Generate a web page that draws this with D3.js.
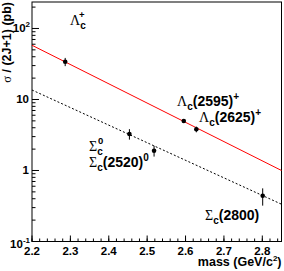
<!DOCTYPE html>
<html>
<head>
<meta charset="utf-8">
<script src="https://cdn.jsdelivr.net/npm/d3@7"></script>
<style>
body { margin: 0; background: #fff; }
text { font-family: "Liberation Sans", Arial, sans-serif; font-weight: bold; fill: #000; }
.greek { font-family: "Liberation Serif", "DejaVu Serif", serif; font-weight: normal; }
</style>
</head>
<body>
<script>
// states and measured sigma/(2J+1)
var states = ["Lc", "Sc0", "Sc2520", "Lc2595", "Lc2625", "Sc2800"];
var masses = [2.2865, 2.4538, 2.5180, 2.5954, 2.6281, 2.8010];
var xsec = [34, 3.27, 1.90, 4.98, 3.80, 0.44];
var xsecErr = [4.5, 0.55, 0.33, 0.3, 0.35, 0.12];

// exponential fits (end points)
var fitMass = [2.2, 2.85];
var lambdaFit = [58, 1.0];
var sigmaFit = [13.6, 0.335];

var xTicks = [2.2, 2.3, 2.4, 2.5, 2.6, 2.7, 2.8];
var xTickLabels = ["2.2", "2.3", "2.4", "2.5", "2.6", "2.7", "2.8"];
var yTicks = [0.1, 1, 10, 100];
var yTickBase = ["10", "1", "10", "10"];
var yTickExp = ["-1", "", "", "2"];

var W = 284, H = 271;
var margin = {top: 2, right: 2.5, bottom: 29.5, left: 32};
var width = W - margin.left - margin.right;
var height = H - margin.top - margin.bottom;

var x = d3.scaleLinear().domain([2.2, 2.85]).range([0, width]);
var y = d3.scaleLog().domain([0.1, 236]).range([height, 0]);

var svg = d3.select("body").append("svg")
	.attr("width", W)
	.attr("height", H);

var g = svg.append("g")
	.attr("transform", "translate(" + margin.left + "," + margin.top + ")");

// frame
g.append("rect")
	.attr("x", 0).attr("y", 0)
	.attr("width", width).attr("height", height)
	.attr("fill", "none")
	.attr("stroke", "#000")
	.attr("stroke-width", 1);

// x ticks (inside, ROOT style)
var xMinor = d3.range(2.2, 2.8501, 0.02);
g.selectAll(".xminor").data(xMinor).enter().append("line")
	.attr("x1", (d) => x(d)).attr("x2", (d) => x(d))
	.attr("y1", height).attr("y2", height - 3)
	.attr("stroke", "#000");
g.selectAll(".xmajor").data(xTicks).enter().append("line")
	.attr("x1", (d) => x(d)).attr("x2", (d) => x(d))
	.attr("y1", height).attr("y2", height - 6)
	.attr("stroke", "#000");
g.selectAll(".xlab").data(xTicks).enter().append("text")
	.attr("x", (d) => x(d))
	.attr("y", height + 13)
	.attr("text-anchor", "middle")
	.attr("font-size", "11.5px")
	.text((d, i) => xTickLabels[i]);

// y ticks
var yMinor = [];
[0.1, 1, 10, 100].forEach((dec) => {
	for (var k = 2; k <= 9; k++) {
		if (dec * k <= 236) yMinor.push(dec * k);
	}
});
g.selectAll(".yminor").data(yMinor).enter().append("line")
	.attr("x1", 0).attr("x2", 3.5)
	.attr("y1", (d) => y(d)).attr("y2", (d) => y(d))
	.attr("stroke", "#000");
g.selectAll(".ymajor").data(yTicks).enter().append("line")
	.attr("x1", 0).attr("x2", 7)
	.attr("y1", (d) => y(d)).attr("y2", (d) => y(d))
	.attr("stroke", "#000");

var ylab = g.selectAll(".ylab").data(yTicks).enter().append("text")
	.attr("x", (d, i) => yTickExp[i] ? -2 : -3)
	.attr("y", (d, i) => y(d) + (i == 0 ? 6 : 4))
	.attr("text-anchor", "end")
	.attr("font-size", "11.5px");
ylab.append("tspan").text((d, i) => yTickBase[i]);
ylab.append("tspan")
	.attr("dy", -5)
	.attr("font-size", "8px")
	.text((d, i) => yTickExp[i]);

// fit lines
var line = d3.line()
	.x((d) => x(d[0]))
	.y((d) => y(d[1]));

g.append("path")
	.datum(d3.zip(fitMass, lambdaFit))
	.attr("d", line)
	.attr("fill", "none")
	.attr("stroke", "#ff0000")
	.attr("stroke-width", 1);

g.append("path")
	.datum(d3.zip(fitMass, sigmaFit))
	.attr("d", line)
	.attr("fill", "none")
	.attr("stroke", "#000")
	.attr("stroke-width", 1)
	.attr("stroke-dasharray", "2,2");

// points with error bars
var pts = masses.map((m, i) => ({m: m, v: xsec[i], e: xsecErr[i]}));
g.selectAll(".err").data(pts).enter().append("line")
	.attr("x1", (d) => x(d.m)).attr("x2", (d) => x(d.m))
	.attr("y1", (d) => y(d.v - d.e)).attr("y2", (d) => y(d.v + d.e))
	.attr("stroke", "#000")
	.attr("stroke-width", 1);
g.selectAll(".pt").data(pts).enter().append("circle")
	.attr("cx", (d) => x(d.m))
	.attr("cy", (d) => y(d.v))
	.attr("r", 2.3)
	.attr("fill", "#000");

// state labels: greek letter, subscript, superscript, rest
function label(px, py, greek, sub, sup, rest, sup2, stacked) {
	var t = svg.append("text")
		.attr("x", px).attr("y", py)
		.attr("font-size", "14px");
	t.append("tspan").attr("class", "greek").attr("font-size", "14px").text(greek);
	t.append("tspan").attr("font-size", "10px").attr("dy", 3.5).text(sub);
	if (sup && stacked) {
		svg.append("text")
			.attr("x", px + 9).attr("y", py - 7)
			.attr("font-size", "9.5px")
			.text(sup);
	} else if (sup) {
		t.append("tspan").attr("font-size", "10px").attr("dy", -8).text(sup);
	}
	if (rest) {
		t.append("tspan").attr("dy", -3.5).text(rest);
		if (sup2) t.append("tspan").attr("font-size", "10px").attr("dy", -6).text(sup2);
	}
}

label(70, 25, "\u039B", "c", "+", "", "", true);
label(177, 106, "\u039B", "c", "", "(2595)", "+", false);
label(199, 122, "\u039B", "c", "", "(2625)", "+", false);
label(89, 151, "\u03A3", "c", "0", "", "", true);
label(89, 167, "\u03A3", "c", "", "(2520)", "0", false);
label(205, 220, "\u03A3", "c", "", "(2800)", "", false);

// axis titles
svg.append("text")
	.attr("x", W - 2.5)
	.attr("y", 266)
	.attr("text-anchor", "end")
	.attr("font-size", "12.5px")
	.html("mass (GeV/c<tspan dy='-5' font-size='8px'>2</tspan><tspan dy='5'>)</tspan>");

svg.append("text")
	.attr("transform", "translate(11,2) rotate(-90)")
	.attr("text-anchor", "end")
	.attr("font-size", "12.5px")
	.html("<tspan class='greek'>\u03C3</tspan> / (2J+1) (pb)");
</script>
</body>
</html>
